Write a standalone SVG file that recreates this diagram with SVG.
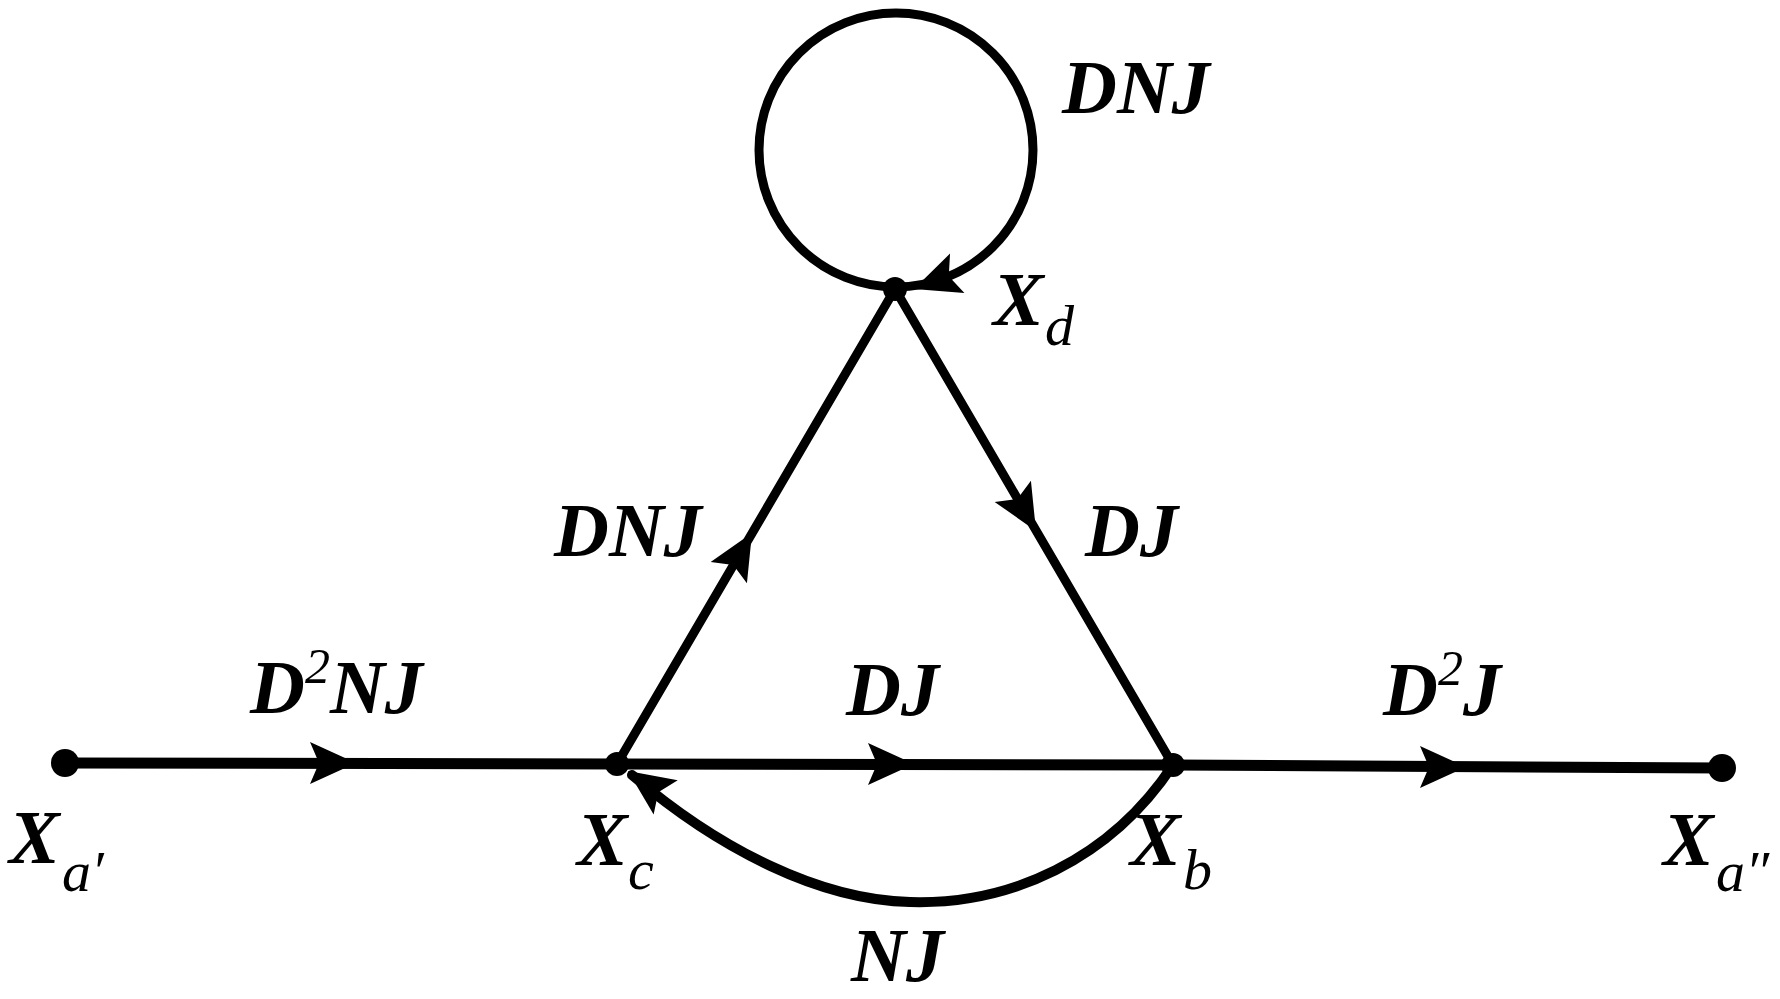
<svg xmlns="http://www.w3.org/2000/svg" xmlns:xlink="http://www.w3.org/1999/xlink" width="1780" height="999" viewBox="0 0 1780 999">
<style>
.lbl{font-family:"Liberation Serif","Times New Roman",serif;font-style:italic;font-weight:bold;font-size:76px;fill:#000}
.sub{font-weight:normal;font-size:58px}
.sup{font-weight:normal;font-size:50px}
.edge{fill:none;stroke:#000;stroke-linecap:round}
.dot{fill:#000}
</style>
<defs>
<path id="ah" d="M0,0 L-46,-21 L-37,0 L-46,21 Z" fill="#000"/>
</defs>
<rect width="1780" height="999" fill="#fff"/>
<g id="connectors">
<path class="edge" stroke-width="11" d="M65,763 L617,764"/>
<path class="edge" stroke-width="11" d="M617,764 L1173,765"/>
<path class="edge" stroke-width="11" d="M1173,765 L1722,768"/>
<path class="edge" stroke-width="9" d="M617,764 L895,289"/>
<path class="edge" stroke-width="9" d="M895,289 L1173,765"/>
<circle class="edge" stroke-width="9" cx="896" cy="150" r="137"/>
<path class="edge" stroke-width="10" d="M1173,765 C1110,860 1010,905 910,902 C820,900 720,850 632,775"/>
<use xlink:href="#ah" transform="translate(356,763)"/>
<use xlink:href="#ah" transform="translate(914,764)"/>
<use xlink:href="#ah" transform="translate(1466,767)"/>
<use xlink:href="#ah" transform="translate(752,533) rotate(-59.7)"/>
<use xlink:href="#ah" transform="translate(1036,531) rotate(59.7)"/>
<use xlink:href="#ah" transform="translate(914,289) rotate(160)"/>
<use xlink:href="#ah" transform="translate(628,771) rotate(215)"/>
</g>
<g id="node-xa1"><circle class="dot" cx="65" cy="763" r="14"/><text class="lbl" x="9" y="863">X<tspan class="sub" x="62" y="891">a′</tspan></text></g>
<g id="node-xc"><circle class="dot" cx="617" cy="764" r="12"/><text class="lbl" x="577" y="865">X<tspan class="sub" x="628" y="889">c</tspan></text></g>
<g id="node-xb"><circle class="dot" cx="1173" cy="765" r="12"/><text class="lbl" x="1130" y="865">X<tspan class="sub" x="1183" y="889">b</tspan></text></g>
<g id="node-xa2"><circle class="dot" cx="1722" cy="768" r="14"/><text class="lbl" x="1663" y="865">X<tspan class="sub" x="1716" y="891">a″</tspan></text></g>
<g id="node-xd"><circle class="dot" cx="895" cy="289" r="12"/><text class="lbl" x="993" y="325">X<tspan class="sub" x="1045" y="345">d</tspan></text></g>
<g id="labels">
<text class="lbl" x="1062" y="113">DNJ</text>
<text class="lbl" x="554" y="556">DNJ</text>
<text class="lbl" x="1085" y="556">DJ</text>
<text class="lbl" x="250" y="713">D<tspan class="sup" dy="-30">2</tspan><tspan dy="30">NJ</tspan></text>
<text class="lbl" x="846" y="715">DJ</text>
<text class="lbl" x="1383" y="715">D<tspan class="sup" dy="-30">2</tspan><tspan dy="30">J</tspan></text>
<text class="lbl" x="851" y="981">NJ</text>
</g>
</svg>
